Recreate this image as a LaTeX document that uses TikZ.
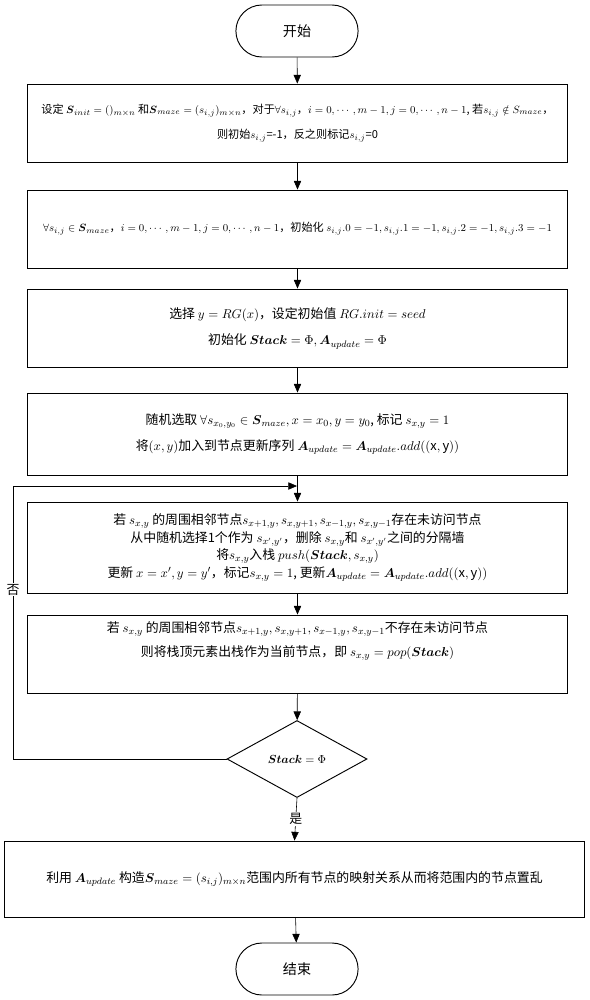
\documentclass[tikz,border=0pt]{standalone}
\usepackage{amsmath,amssymb}
\usepackage{fontspec}
\setmainfont{Noto Sans CJK SC}
\usetikzlibrary{arrows.meta,shapes.geometric,shapes.misc}

\begin{document}
\begin{tikzpicture}[x=0.3mm,y=-0.3mm,
  every node/.style={font=\fontsize{11}{15}\selectfont},
  dense/.style={font=\fontsize{9.5}{12}\selectfont},
  term/.style={rounded rectangle,draw=black,line width=0.8pt,minimum width=3.9cm,minimum height=1.56cm,font=\fontsize{12}{15}\selectfont},
  proc/.style={rectangle,draw=black,line width=0.8pt,minimum width=16.2cm,align=center,inner sep=2pt},
  cond/.style={diamond,draw=black,line width=0.8pt,minimum width=4.2cm,minimum height=2.31cm,inner sep=0pt,font=\fontsize{10}{12}\selectfont},
  flow/.style={-{Triangle[length=2.6mm,width=2.2mm]},line width=0.5pt}]
\useasboundingbox (0,0) rectangle (589,1000);
\node at (297,31)[term](start){开始};
\node at (297.5,123)[proc,dense,minimum height=2.34cm](init){设定 $\boldsymbol{S}_{init}=()_{m\times n}$ 和$\boldsymbol{S}_{maze}=(s_{i,j})_{m\times n}$，对于$\forall s_{i,j}$，$i=0,\cdots,m-1, j=0,\cdots,n-1$, 若$s_{i,j}\notin S_{maze}$，\\[9pt]则初始$s_{i,j}$=-1，反之则标记$s_{i,j}$=0};
\node at (297.5,229)[proc,dense,minimum height=2.34cm](wall){$\forall s_{i,j}\in\boldsymbol{S}_{maze}$，$i=0,\cdots,m-1, j=0,\cdots,n-1$，初始化 $s_{i,j}.0=-1, s_{i,j}.1=-1, s_{i,j}.2=-1, s_{i,j}.3=-1$};
\node at (297.5,328)[proc,minimum height=2.34cm](seed){选择 $y=RG(x)$，设定初始值 $RG.init=seed$\\[8pt]初始化 $\boldsymbol{Stack}=\Phi, \boldsymbol{A}_{update}=\Phi$};
\node at (297.5,434)[proc,minimum height=2.46cm](pick){随机选取 $\forall s_{x_0,y_0}\in\boldsymbol{S}_{maze}, x=x_0, y=y_0$, 标记 $s_{x,y}=1$\\[7pt]将$(x,y)$加入到节点更新序列 $\boldsymbol{A}_{update}=\boldsymbol{A}_{update}.add((\mathrm{x},\mathrm{y}))$};
\node at (297.5,547.5)[proc,minimum height=2.73cm](visit){若 $s_{x,y}$ 的周围相邻节点$s_{x+1,y},s_{x,y+1},s_{x-1,y},s_{x,y-1}$存在未访问节点\\从中随机选择1个作为 $s_{x',y'}$，删除 $s_{x,y}$和 $s_{x',y'}$之间的分隔墙\\将$s_{x,y}$入栈 $push(\boldsymbol{Stack},s_{x,y})$\\更新 $x=x',y=y'$，标记$s_{x,y}=1$, 更新$\boldsymbol{A}_{update}=\boldsymbol{A}_{update}.add((\mathrm{x},\mathrm{y}))$};
\node at (297.5,654)[proc,minimum height=2.34cm](back){若 $s_{x,y}$ 的周围相邻节点$s_{x+1,y},s_{x,y+1},s_{x-1,y},s_{x,y-1}$不存在未访问节点\\[6pt]则将栈顶元素出栈作为当前节点，即 $s_{x,y}=pop(\boldsymbol{Stack})$\\[6pt]\strut};
\node at (297,759)[cond](empty){$\boldsymbol{Stack}=\Phi$};
\node at (294.5,879)[proc,minimum width=17.4cm,minimum height=2.28cm](shuffle){利用 $\boldsymbol{A}_{update}$ 构造$\boldsymbol{S}_{maze}=(s_{i,j})_{m\times n}$范围内所有节点的映射关系从而将范围内的节点置乱};
\node at (297,969)[term](finish){结束};
\coordinate (turn) at (13,486);
\coordinate (merge) at (297,486);
\draw[flow] (start) -- (init);
\draw[flow] (init) -- (wall);
\draw[flow] (wall) -- (seed);
\draw[flow] (seed) -- (pick);
\draw[flow] (pick) -- (visit);
\draw[flow] (visit) -- (back);
\draw[flow] (back) -- (empty);
\draw[flow] (empty.west) -| node[pos=0.81,fill=white,inner sep=1pt](no){否} (turn) -- (merge);
\draw[flow] (empty.south) -- node[fill=white,inner sep=1pt](yes){是} (shuffle.north);
\draw[flow] (shuffle) -- (finish);
\end{tikzpicture}
\end{document}
